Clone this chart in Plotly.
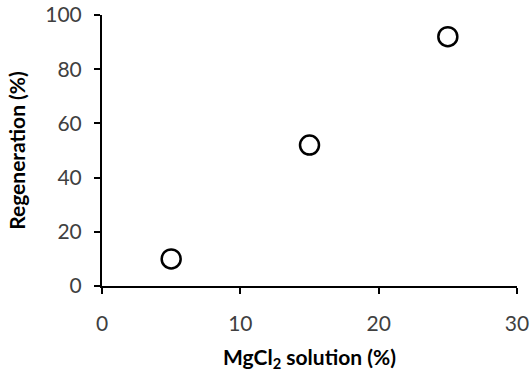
import plotly.graph_objects as go

mgcl2_pct = [5, 15, 25]
regeneration_pct = [10, 52, 92]
x_ticks = [0, 10, 20, 30]
y_ticks = [0, 20, 40, 60, 80, 100]

fig = go.Figure()
fig.add_trace(go.Scatter(
    x=mgcl2_pct, y=regeneration_pct, mode="markers",
    marker=dict(symbol="circle-open", size=19, color="black", line=dict(width=2.5, color="black")),
    showlegend=False, cliponaxis=False,
))

fig.update_layout(
    width=531, height=374,
    margin=dict(l=102, r=14, t=15, b=88, autoexpand=False),
    paper_bgcolor="white", plot_bgcolor="white",
    font=dict(family="Lato, Carlito, sans-serif", size=21, color="#404040"),
)
fig.update_xaxes(
    range=[0, 30], tickvals=x_ticks, showgrid=False, zeroline=False,
    showline=True, linecolor="black", linewidth=2,
    ticks="outside", ticklen=6, tickwidth=2, tickcolor="black",
    ticklabelstandoff=12,
    tickfont=dict(size=21, color="#404040"),
    title=dict(text="<b>MgCl<sub>2</sub> solution (%)</b>", font=dict(size=21, color="black"), standoff=16),
    automargin=False,
)
fig.update_yaxes(
    range=[0, 100], tickvals=y_ticks, showgrid=False, zeroline=False,
    showline=True, linecolor="black", linewidth=2,
    ticks="outside", ticklen=6, tickwidth=2, tickcolor="black",
    ticklabelstandoff=8,
    tickfont=dict(size=21, color="#404040"),
    title=dict(text="<b>Regeneration (%)</b>", font=dict(size=21, color="black"), standoff=14),
    automargin=False,
)

fig.write_html("out.html")
